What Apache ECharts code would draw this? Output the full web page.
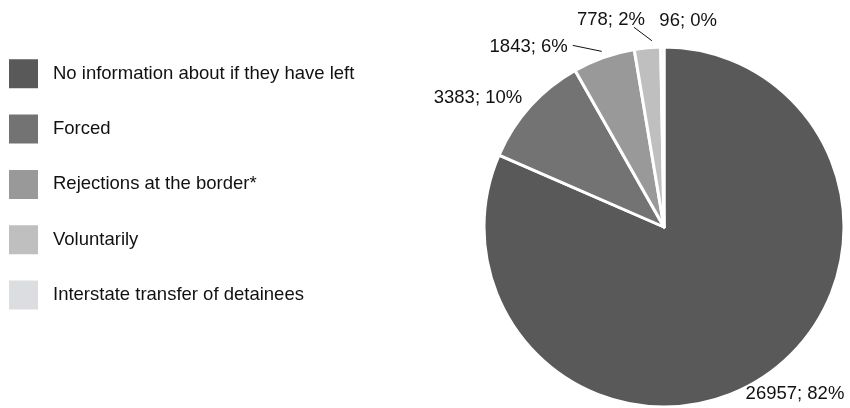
<!DOCTYPE html>
<html>
<head>
<meta charset="utf-8">
<script src="https://cdn.jsdelivr.net/npm/echarts@6/dist/echarts.min.js"></script>
<style>
  html, body { margin: 0; padding: 0; background: #ffffff; }
  #chart { width: 850px; height: 408px; }
</style>
</head>
<body>
<div id="chart"></div>
<script>
// Departures by type
const categories = [
  'No information about if they have left',
  'Forced',
  'Rejections at the border*',
  'Voluntarily',
  'Interstate transfer of detainees'
];
const counts = [26957, 3383, 1843, 778, 96];
const sliceColors = ['#595959', '#737373', '#999999', '#bfbfbf', '#dcdde0'];

const FONT = '"Liberation Sans", Arial, Helvetica, sans-serif';
const CX = 664, CY = 227, R = 180;

// Where each value label sits relative to the rim point at the middle of its slice
const labelPlacement = [
  { dx: -17, dy: 16.5, align: 'left' },
  { dx: -8, dy: -8.5, align: 'right' },
  { dx: -36, dy: -10.5, align: 'right', line: [[-2, -6], [-31, -12]] },
  { dx: -36.5, dy: -28, align: 'center', line: [[4.5, -7], [-13.5, -20.5]] },
  { dx: -3, dy: -26.5, align: 'left' }
];

const total = counts.reduce((a, b) => a + b, 0);
const midAngles = [];
let acc = 0;
counts.forEach(v => {
  midAngles.push((acc + v / 2) / total * Math.PI * 2);
  acc += v;
});

const pieData = categories.map((name, i) => ({
  name: name,
  value: counts[i],
  itemStyle: { color: sliceColors[i] },
  labelLine: { show: !!labelPlacement[i].line }
}));

const chart = echarts.init(document.getElementById('chart'), null, { renderer: 'canvas' });
chart.setOption({
  animation: false,
  backgroundColor: '#ffffff',
  legend: {
    orient: 'vertical',
    left: 7,
    top: 57.3,
    padding: 0,
    itemWidth: 31,
    itemHeight: 31,
    itemGap: 22.3,
    icon: 'rect',
    selectedMode: false,
    data: categories,
    textStyle: {
      fontFamily: FONT,
      fontSize: 18.5,
      color: '#111111',
      padding: [0, 0, 0, 9]
    }
  },
  series: [{
    type: 'pie',
    center: [CX, CY],
    radius: R,
    startAngle: 90,
    clockwise: true,
    avoidLabelOverlap: false,
    itemStyle: { borderColor: '#ffffff', borderWidth: 3 },
    emphasis: { disabled: true },
    label: {
      show: true,
      position: 'outside',
      fontFamily: FONT,
      fontSize: 18.5,
      color: '#111111',
      overflow: 'none',
      formatter: p => p.value + '; ' + Math.round(p.value / total * 100) + '%'
    },
    labelLine: {
      lineStyle: { color: '#111111', width: 1 }
    },
    labelLayout: function (params) {
      const i = params.dataIndex;
      const a = midAngles[i];
      const ex = CX + R * Math.sin(a);
      const ey = CY - R * Math.cos(a);
      const p = labelPlacement[i];
      const out = {
        x: ex + p.dx,
        y: ey + p.dy,
        align: p.align,
        verticalAlign: 'middle'
      };
      if (p.line) {
        out.labelLinePoints = [
          [ex + p.line[0][0], ey + p.line[0][1]],
          [ex + p.line[1][0], ey + p.line[1][1]],
          [ex + p.line[1][0], ey + p.line[1][1]]
        ];
      }
      return out;
    },
    data: pieData
  }]
});
</script>
</body>
</html>
